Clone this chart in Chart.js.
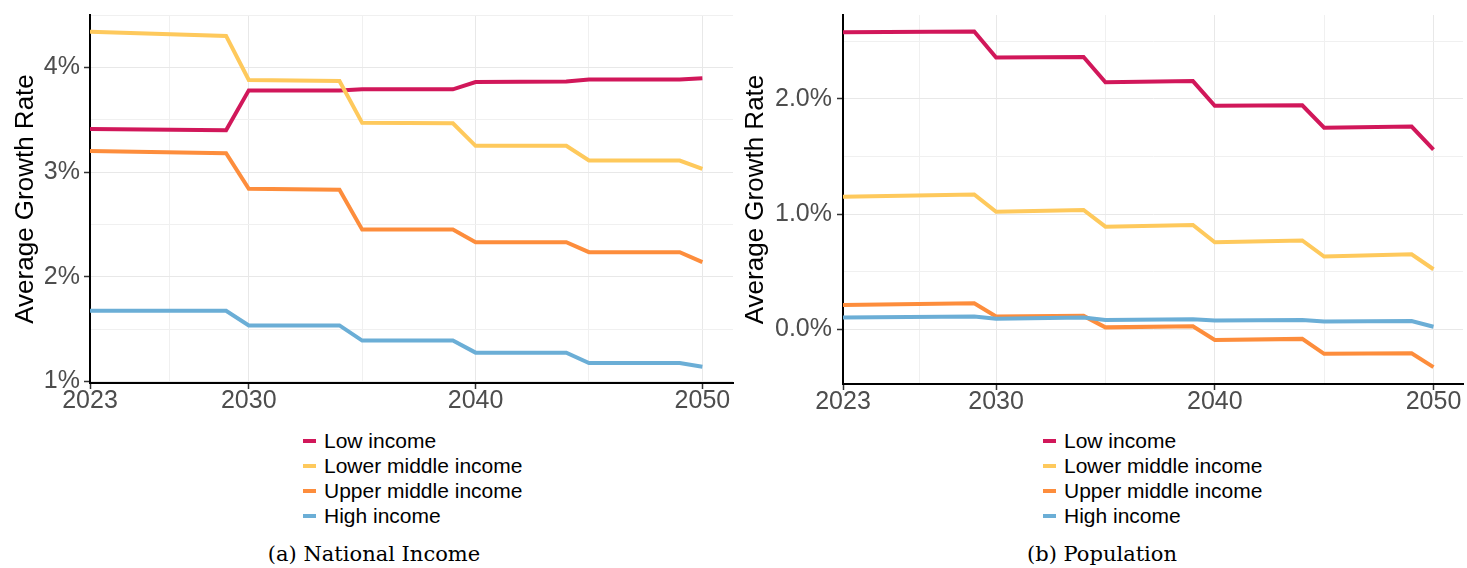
<!DOCTYPE html>
<html>
<head>
<meta charset="utf-8">
<title>Average growth rate by income group</title>
<script src="https://cdn.jsdelivr.net/npm/chart.js@4/dist/chart.umd.min.js"></script>
<style>
  body { margin: 0; background: #fff; width: 1467px; height: 568px; position: relative; overflow: hidden;
         font-family: "Liberation Sans", Arial, sans-serif; }
  canvas { position: absolute; top: 0; }
  .legend { position: absolute; color: #000; font-size: 21px; }
  .legend .row { display: flex; align-items: center; height: 25px; white-space: nowrap; }
  .legend .swatch { width: 13px; height: 4px; margin-right: 8px; }
  .caption { position: absolute; top: 542px; font-family: "DejaVu Serif", "Liberation Serif", serif;
             font-size: 21px; color: #000; transform: translateX(-50%); white-space: nowrap; }
</style>
</head>
<body>
<canvas id="incomeChart" width="740" height="420" style="left:0"></canvas>
<canvas id="popChart" width="734" height="420" style="left:733px"></canvas>
<div class="legend" id="incomeLegend" style="left:303px; top:428px"></div>
<div class="legend" id="popLegend" style="left:1043px; top:428px"></div>
<div class="caption" style="left:374px">(a) National Income</div>
<div class="caption" style="left:1102px">(b) Population</div>

<script>
// Years where the projected paths change slope
const years = [2023, 2029, 2030, 2034, 2035, 2039, 2040, 2044, 2045, 2049, 2050];

const groups = ['Low income', 'Lower middle income', 'Upper middle income', 'High income'];
const groupColors = ['#d1175a', '#fec95c', '#fd8d3c', '#6baed6'];

// National income growth, % per year
const incomeLow      = [3.41, 3.40, 3.78, 3.78, 3.79, 3.79, 3.86, 3.865, 3.885, 3.885, 3.895];
const incomeLowerMid = [4.34, 4.30, 3.88, 3.87, 3.47, 3.465, 3.25, 3.25, 3.11, 3.11, 3.03];
const incomeUpperMid = [3.20, 3.18, 2.84, 2.83, 2.45, 2.45, 2.33, 2.33, 2.235, 2.235, 2.14];
const incomeHigh     = [1.675, 1.675, 1.535, 1.535, 1.39, 1.39, 1.275, 1.275, 1.175, 1.175, 1.14];

// Population growth, % per year
const popLow      = [2.58, 2.585, 2.36, 2.365, 2.145, 2.155, 1.94, 1.945, 1.75, 1.76, 1.56];
const popLowerMid = [1.15, 1.17, 1.02, 1.035, 0.89, 0.905, 0.755, 0.77, 0.63, 0.65, 0.52];
const popUpperMid = [0.21, 0.225, 0.11, 0.115, 0.015, 0.025, -0.095, -0.085, -0.215, -0.21, -0.33];
const popHigh     = [0.10, 0.11, 0.09, 0.10, 0.08, 0.085, 0.075, 0.08, 0.065, 0.07, 0.02];

// Axis ticks (major get labels, minor only grid lines)
const xMajor = [2023, 2030, 2040, 2050];
const xMinor = [2026.5, 2035, 2045];
const incomeMajor = [1, 2, 3, 4];
const incomeMinor = [1.5, 2.5, 3.5, 4.5];
const popMajor = [0, 1, 2];
const popMinor = [0.5, 1.5, 2.5];

const FONT_FAMILY = '"Liberation Sans", Arial, sans-serif';

function gridStyle(major) {
    return {
        color: (c) => major.includes(c.tick.value) ? '#e8e8e8' : '#f0f0f0',
        lineWidth: 1,
        tickLength: 6,
        tickWidth: 1.5,
        tickColor: (c) => major.includes(c.tick.value) ? '#333' : 'rgba(0,0,0,0)',
    };
}

// minor ticks carry no label, so keep their font tiny to stop them padding the axis
function tickFont(major) {
    return (c) => ({ family: FONT_FAMILY, size: major.includes(c.tick && c.tick.value) ? 25 : 1 });
}

function buildPanel(canvasId, series, cfg) {
    const ctx = document.getElementById(canvasId);
    const datasets = groups.map((name, i) => ({
        label: name,
        data: years.map((yr, j) => ({ x: yr, y: series[i][j] })),
        borderColor: groupColors[i],
        borderWidth: 4,
        pointRadius: 0,
        tension: 0,
        fill: false,
        order: groups.length - i,   // high income drawn on top
    }));

    const yAll = cfg.yMajor.concat(cfg.yMinor).sort((a, b) => a - b);
    const xAll = xMajor.concat(xMinor).sort((a, b) => a - b);

    return new Chart(ctx, {
        type: 'line',
        data: { datasets },
        options: {
            responsive: false,
            animation: false,
            layout: { padding: { top: 15, right: cfg.padRight, left: 0, bottom: 0 } },
            plugins: { legend: { display: false }, tooltip: { enabled: false } },
            scales: {
                x: {
                    type: 'linear',
                    min: 2023,
                    max: 2051.35,
                    afterBuildTicks: (axis) => { axis.ticks = xAll.map(v => ({ value: v })); },
                    afterFit: (axis) => { axis.height = 420 - cfg.bottom; },
                    ticks: {
                        autoSkip: false,
                        maxRotation: 0,
                        padding: -3,
                        color: '#4d4d4d',
                        font: tickFont(xMajor),
                        callback: (v) => xMajor.includes(v) ? String(v) : '',
                    },
                    grid: gridStyle(xMajor),
                    border: { display: true, color: '#000', width: 2 },
                },
                y: {
                    min: cfg.yMin,
                    max: cfg.yMax,
                    afterBuildTicks: (axis) => { axis.ticks = yAll.map(v => ({ value: v })); },
                    afterFit: (axis) => { axis.width = cfg.axisWidth; },
                    ticks: {
                        padding: cfg.labelPad,
                        color: '#4d4d4d',
                        font: tickFont(cfg.yMajor),
                        callback: (v) => cfg.yMajor.includes(v) ? v.toFixed(cfg.decimals) + '%' : '',
                    },
                    grid: gridStyle(cfg.yMajor),
                    border: { display: true, color: '#000', width: 2 },
                    title: {
                        display: true,
                        text: 'Average Growth Rate',
                        color: '#000',
                        font: { family: FONT_FAMILY, size: 26 },
                        padding: { top: cfg.titlePad, bottom: 0 },
                    },
                },
            },
        },
    });
}

function buildLegend(elId) {
    const el = document.getElementById(elId);
    groups.forEach((name, i) => {
        const row = document.createElement('div');
        row.className = 'row';
        const sw = document.createElement('span');
        sw.className = 'swatch';
        sw.style.background = groupColors[i];
        const txt = document.createElement('span');
        txt.textContent = name;
        row.appendChild(sw);
        row.appendChild(txt);
        el.appendChild(row);
    });
}

buildPanel('incomeChart', [incomeLow, incomeLowerMid, incomeUpperMid, incomeHigh], {
    yMin: 0.985, yMax: 4.5, yMajor: incomeMajor, yMinor: incomeMinor, decimals: 0,
    axisWidth: 90, padRight: 7, bottom: 383, labelPad: 4, titlePad: 10,
});
buildPanel('popChart', [popLow, popLowerMid, popUpperMid, popHigh], {
    yMin: -0.477, yMax: 2.729, yMajor: popMajor, yMinor: popMinor, decimals: 1,
    axisWidth: 110, padRight: 4, bottom: 384, labelPad: 5, titlePad: 7,
});
buildLegend('incomeLegend');
buildLegend('popLegend');
</script>
</body>
</html>
